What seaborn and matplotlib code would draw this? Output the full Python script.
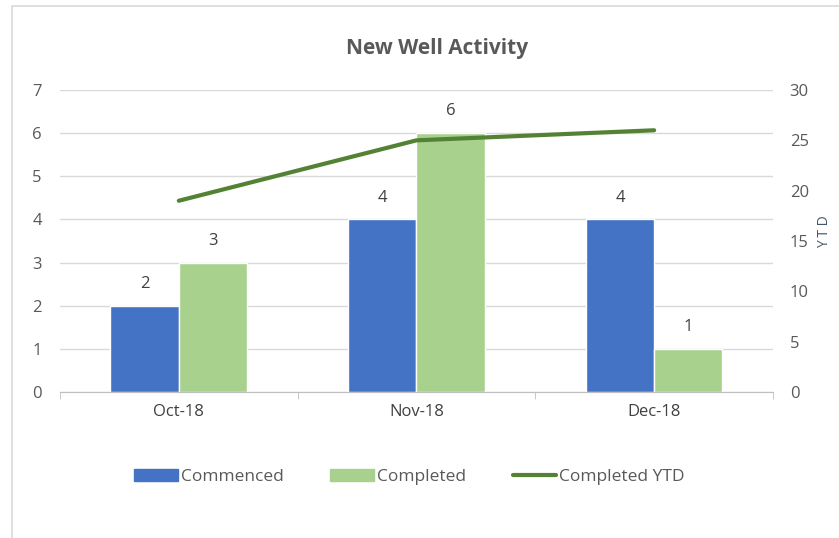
import pandas as pd
import matplotlib.pyplot as plt
import seaborn as sns
from matplotlib.patches import Patch, Rectangle
from matplotlib.lines import Line2D

# chart data
months = ['Oct-18', 'Nov-18', 'Dec-18']
commenced = [2, 4, 4]
completed = [3, 6, 1]
completed_ytd = [19, 25, 26]

bar_colors = ['#4472C4', '#A9D18E']
line_color = '#548235'
text_color = '#595959'

df = pd.DataFrame({
    'Month': months * 2,
    'Count': commenced + completed,
    'Series': ['Commenced'] * 3 + ['Completed'] * 3,
})
df_ytd = pd.DataFrame({'Month': months, 'YTD': completed_ytd})

sns.set_style('white')
plt.rcParams['font.family'] = ['Open Sans', 'DejaVu Sans']

fig = plt.figure(figsize=(8.39, 5.38), dpi=100)
ax = fig.add_axes([0.0715, 0.2714, 0.8498, 0.5613])

# light frame around the chart area
fig.patches.append(Rectangle((12 / 839, -0.1), 1.2, 1 - 6 / 538 + 0.1,
                             transform=fig.transFigure, fill=False,
                             edgecolor='#D9D9D9', linewidth=1.2))

sns.barplot(data=df, x='Month', y='Count', hue='Series', palette=bar_colors,
            width=0.575, saturation=1, legend=False, ax=ax)

for cont in ax.containers:
    ax.bar_label(cont, padding=10, fontsize=12, color='#404040')

ax.set_ylim(0, 7)
ax.set_xlim(-0.5, 2.5)
ax.set_yticks(range(0, 8))
ax.yaxis.grid(True, color='#D9D9D9', linewidth=1)
ax.set_axisbelow(True)
ax.set_xlabel('')
ax.set_ylabel('')
for s in ['top', 'right', 'left']:
    ax.spines[s].set_visible(False)
ax.spines['bottom'].set_color('#BFBFBF')
ax.tick_params(axis='y', length=0, labelsize=12, labelcolor=text_color, pad=13)
ax.tick_params(axis='x', length=0, labelsize=12, labelcolor='#404040', pad=9)
# tick marks at category boundaries
ax.set_xticks([-0.5, 0.5, 1.5, 2.5], minor=True)
ax.tick_params(axis='x', which='minor', length=5, color='#BFBFBF', bottom=True)

ax2 = ax.twinx()
sns.lineplot(data=df_ytd, x='Month', y='YTD', color=line_color, linewidth=3,
             ax=ax2)
ax2.set_ylim(0, 30)
ax2.set_yticks(range(0, 31, 5))
ax2.set_ylabel('')
for s in ax2.spines.values():
    s.set_visible(False)
ax2.tick_params(axis='y', length=0, labelsize=12, labelcolor=text_color, pad=12)

fig.text(0.521, 0.909, 'New Well Activity', ha='center', va='center',
         fontsize=15, fontweight='bold', color=text_color)
fig.text(0.983, 0.569, 'Y T D', rotation=90, ha='center', va='center',
         fontsize=10, color='#44546A')

handles = [Patch(color=bar_colors[0]), Patch(color=bar_colors[1]),
           Line2D([], [], color=line_color, linewidth=3)]
leg = fig.legend(handles, ['Commenced', 'Completed', 'Completed YTD'],
                 loc='center', bbox_to_anchor=(0.488, 0.1134), ncol=3,
                 frameon=False, fontsize=12.5, handlelength=2.5,
                 handleheight=0.63, handletextpad=0.17, columnspacing=2.7)
for t in leg.get_texts():
    t.set_color(text_color)

fig.savefig('out.png', dpi=100)
